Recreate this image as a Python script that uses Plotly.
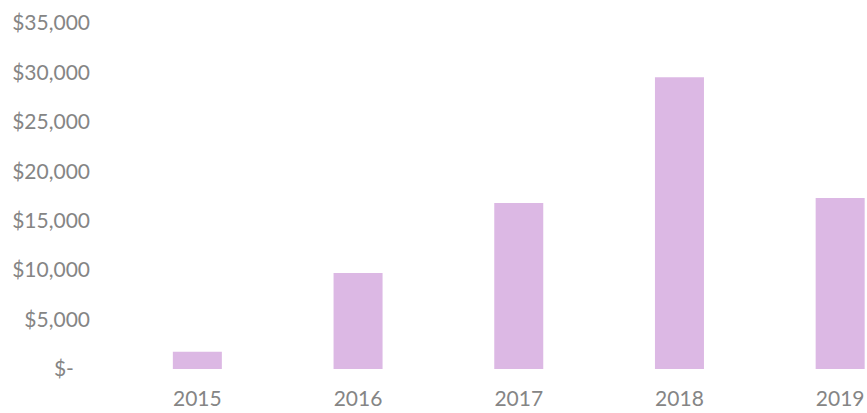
import plotly.graph_objects as go

# Yearly totals (USD)
years = ["2015", "2016", "2017", "2018", "2019"]
totals = [1750, 9700, 16800, 29500, 17300]

# Value axis ticks in accounting style
tick_values = [0, 5000, 10000, 15000, 20000, 25000, 30000, 35000]
tick_labels = ["$-\u00a0\u00a0\u00a0", "$5,000", "$10,000", "$15,000",
               "$20,000", "$25,000", "$30,000", "$35,000"]

BAR_COLOR = "rgb(220,184,228)"
TEXT_COLOR = "#858585"
FONT = "Lato, Open Sans, sans-serif"

fig = go.Figure(
    go.Bar(
        x=list(range(len(years))),
        y=totals,
        width=0.305,
        marker=dict(color=BAR_COLOR, line=dict(width=0)),
        hovertemplate="%{customdata}: $%{y:,.0f}<extra></extra>",
        customdata=years,
    )
)

fig.update_layout(
    width=867,
    height=413,
    margin=dict(l=117, r=0, t=23, b=44),
    paper_bgcolor="white",
    plot_bgcolor="white",
    showlegend=False,
    font=dict(family=FONT, size=21, color=TEXT_COLOR),
)

fig.update_xaxes(
    range=[-0.5, 4.167],
    tickmode="array",
    tickvals=list(range(len(years))),
    ticktext=years,
    showgrid=False,
    zeroline=False,
    showline=False,
    ticks="",
    ticklabelstandoff=15,
    tickfont=dict(family=FONT, size=21, color=TEXT_COLOR),
)

fig.update_yaxes(
    range=[0, 35000],
    tickmode="array",
    tickvals=tick_values,
    ticktext=tick_labels,
    showgrid=False,
    zeroline=False,
    showline=False,
    ticks="",
    ticklabelstandoff=26,
    tickfont=dict(family=FONT, size=21, color=TEXT_COLOR),
)

fig.write_html("out.html")
